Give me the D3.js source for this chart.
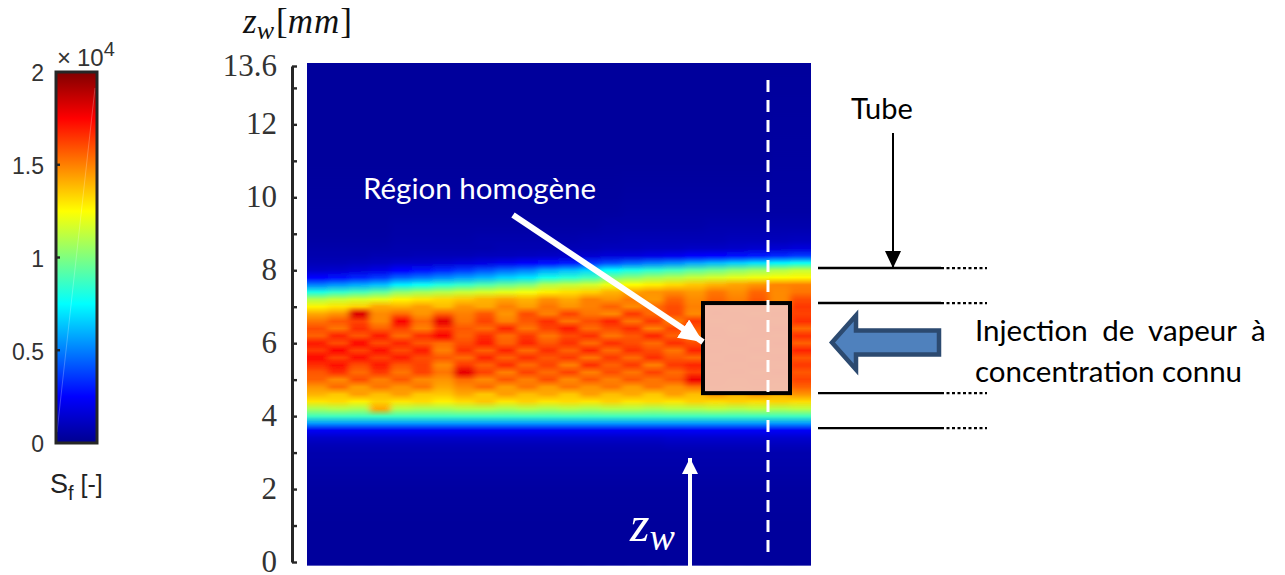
<!DOCTYPE html>
<html><head><meta charset="utf-8">
<script src="https://cdn.jsdelivr.net/npm/d3@7"></script>
<style>html,body{margin:0;padding:0;background:#fff}svg{display:block}</style>
</head><body><svg id="c" width="1285" height="575"></svg>
<script>
// Colour scale (×10^4)
const jetStops = [0, 0.25, 0.75, 1.25, 1.75, 2];
const jetColors = ["#00008f", "#0000ff", "#00ffff", "#ffff00", "#ff0000", "#800000"];
const colorbarTicks = [0, 0.5, 1, 1.5, 2];
const colorbarLabels = ["0", "0.5", "1", "1.5", "2"];
const zMinorTicks = [0,1,2,3,4,5,6,7,8,9,10,11,12,13,13.6];
const zLabelTicks = [0,2,4,6,8,10,12,13.6];
// Heat-map readings: z level of each row, one value per column (24 columns across the image)
const zRows = [13.7,11,9.6,9.2,8.8,8.6,8.4,8.2,8.0,7.8,7.6,7.4,7.2,7.0,6.8,6.6,6.4,6.2,6.0,5.8,5.6,5.4,5.2,5.0,4.8,4.6,4.4,4.2,4.0,3.8,3.6,3.4,3.2,3.0,2,1,-0.1];
const sValues = [
[.03,.03,.03,.03,.03,.03,.03,.03,.03,.03,.03,.03,.03,.03,.03,.03,.03,.03,.03,.03,.03,.03,.03,.03],
[.03,.03,.03,.03,.03,.03,.03,.03,.03,.03,.03,.03,.03,.03,.03,.03,.03,.03,.03,.03,.03,.03,.04,.04],
[.04,.04,.04,.04,.04,.04,.04,.04,.04,.04,.04,.04,.04,.04,.04,.05,.05,.05,.05,.05,.05,.05,.05,.05],
[.04,.04,.04,.04,.05,.05,.05,.05,.05,.05,.05,.05,.05,.05,.06,.06,.06,.06,.06,.07,.07,.07,.07,.07],
[.05,.05,.05,.05,.06,.06,.06,.06,.07,.07,.07,.07,.07,.08,.08,.09,.09,.09,.09,.09,.10,.10,.10,.11],
[.06,.06,.06,.06,.07,.07,.07,.07,.07,.08,.08,.08,.09,.09,.10,.10,.11,.11,.12,.12,.13,.14,.15,.17],
[.07,.07,.07,.08,.08,.09,.09,.09,.10,.10,.11,.12,.13,.14,.16,.17,.19,.21,.24,.26,.28,.30,.33,.36],
[.09,.09,.10,.11,.13,.13,.14,.16,.18,.21,.24,.27,.30,.35,.40,.45,.49,.52,.57,.61,.65,.69,.73,.77],
[.13,.14,.16,.19,.25,.28,.32,.36,.41,.46,.50,.58,.62,.67,.75,.80,.84,.88,.93,.97,1.02,1.06,1.10,1.14],
[.25,.28,.32,.36,.44,.48,.52,.56,.60,.66,.70,.79,.83,.88,.98,1.02,1.07,1.10,1.14,1.17,1.20,1.22,1.24,1.26],
[.50,.54,.58,.62,.72,.77,.82,.86,.91,.96,1.00,1.10,1.13,1.16,1.22,1.25,1.28,1.32,1.36,1.40,1.43,1.46,1.49,1.50],
[.80,.85,.89,.94,1.03,1.07,1.10,1.14,1.17,1.20,1.23,1.28,1.31,1.34,1.40,1.43,1.46,1.48,1.45,1.52,1.47,1.55,1.48,1.52],
[1.10,1.14,1.17,1.20,1.27,1.30,1.33,1.36,1.40,1.43,1.40,1.47,1.42,1.50,1.46,1.52,1.45,1.56,1.48,1.55,1.50,1.58,1.48,1.60],
[1.27,1.30,1.34,1.42,1.40,1.44,1.38,1.46,1.42,1.50,1.44,1.52,1.46,1.50,1.56,1.48,1.54,1.60,1.50,1.60,1.52,1.58,1.50,1.64],
[1.42,1.46,1.82,1.48,1.54,1.46,1.56,1.50,1.58,1.46,1.60,1.50,1.62,1.52,1.48,1.64,1.54,1.60,1.48,1.62,1.58,1.50,1.60,1.62],
[1.52,1.58,1.62,1.48,1.76,1.54,1.80,1.52,1.62,1.50,1.58,1.66,1.52,1.60,1.68,1.52,1.64,1.50,1.64,1.54,1.60,1.64,1.52,1.66],
[1.60,1.52,1.66,1.56,1.62,1.50,1.64,1.58,1.54,1.68,1.52,1.62,1.70,1.54,1.60,1.66,1.50,1.62,1.58,1.64,1.52,1.62,1.66,1.54],
[1.56,1.68,1.58,1.70,1.54,1.66,1.76,1.56,1.66,1.54,1.64,1.52,1.60,1.66,1.52,1.58,1.68,1.56,1.52,1.66,1.60,1.64,1.54,1.66],
[1.70,1.60,1.74,1.60,1.68,1.58,1.54,1.60,1.70,1.56,1.68,1.58,1.66,1.54,1.66,1.60,1.54,1.66,1.60,1.56,1.66,1.56,1.68,1.56],
[1.64,1.74,1.62,1.72,1.60,1.70,1.50,1.66,1.56,1.68,1.54,1.66,1.56,1.68,1.54,1.66,1.60,1.52,1.68,1.62,1.56,1.66,1.58,1.68],
[1.74,1.62,1.72,1.62,1.70,1.60,1.58,1.54,1.68,1.56,1.66,1.58,1.64,1.52,1.64,1.54,1.66,1.58,1.54,1.60,1.66,1.54,1.66,1.58],
[1.66,1.72,1.60,1.70,1.58,1.62,1.48,1.64,1.56,1.66,1.54,1.62,1.50,1.66,1.56,1.64,1.50,1.64,1.68,1.62,1.58,1.66,1.56,1.64],
[1.58,1.66,1.54,1.64,1.52,1.62,1.52,1.80,1.62,1.50,1.62,1.54,1.62,1.50,1.60,1.52,1.62,1.54,1.62,1.56,1.64,1.54,1.66,1.58],
[1.56,1.48,1.60,1.50,1.58,1.48,1.46,1.54,1.48,1.58,1.50,1.60,1.48,1.58,1.50,1.58,1.52,1.58,1.78,1.60,1.54,1.62,1.54,1.62],
[1.46,1.54,1.44,1.52,1.46,1.52,1.42,1.48,1.54,1.44,1.52,1.44,1.52,1.46,1.52,1.44,1.52,1.46,1.52,1.56,1.52,1.56,1.50,1.56],
[1.40,1.36,1.44,1.38,1.44,1.36,1.36,1.42,1.36,1.44,1.38,1.42,1.36,1.44,1.38,1.42,1.36,1.44,1.38,1.46,1.40,1.46,1.40,1.46],
[1.30,1.32,1.28,1.34,1.30,1.32,1.28,1.32,1.36,1.30,1.34,1.30,1.32,1.30,1.34,1.30,1.32,1.30,1.34,1.32,1.34,1.32,1.34,1.32],
[1.08,1.10,1.08,1.42,1.10,1.08,1.08,1.10,1.10,1.08,1.10,1.08,1.10,1.08,1.10,1.10,1.08,1.10,1.10,1.12,1.10,1.12,1.10,1.12],
[.88,.88,.88,.88,.88,.88,.88,.88,.88,.88,.88,.88,.88,.88,.88,.88,.88,.88,.88,.88,.88,.88,.88,.88],
[.55,.55,.55,.55,.55,.55,.55,.55,.55,.55,.55,.55,.55,.55,.55,.55,.55,.55,.55,.55,.55,.55,.55,.55],
[.22,.22,.22,.22,.22,.22,.22,.22,.22,.22,.22,.22,.22,.22,.22,.22,.22,.22,.23,.23,.23,.23,.23,.23],
[.13,.13,.13,.13,.13,.13,.13,.13,.13,.13,.13,.13,.13,.13,.13,.13,.13,.14,.14,.14,.14,.14,.14,.14],
[.09,.09,.09,.09,.09,.09,.09,.09,.09,.09,.09,.09,.09,.09,.09,.09,.09,.10,.10,.10,.10,.10,.10,.10],
[.07,.07,.07,.07,.07,.07,.07,.07,.07,.07,.07,.07,.07,.07,.07,.07,.07,.07,.07,.07,.07,.07,.07,.07],
[.04,.04,.04,.04,.04,.04,.04,.04,.04,.04,.04,.04,.04,.04,.04,.04,.04,.04,.04,.04,.04,.04,.04,.04],
[.03,.03,.03,.03,.03,.03,.03,.03,.03,.03,.03,.03,.03,.03,.03,.03,.03,.03,.03,.03,.03,.03,.03,.03],
[.03,.03,.03,.03,.03,.03,.03,.03,.03,.03,.03,.03,.03,.03,.03,.03,.03,.03,.03,.03,.03,.03,.03,.03]
];
const columns = d3.range(sValues[0].length);
// Tube levels and homogeneous region, in z [mm]
const tubeLevels = [8.06, 7.10, 4.63, 3.67];
const regionZ = [4.63, 7.10];
const titles = {region:"Région homogène", tube:"Tube", inj1:"Injection de vapeur à", inj2:"concentration connu"};

const svg = d3.select("#c");
const defs = svg.append("defs");
const jet = d3.scaleLinear().domain(jetStops).range(jetColors).clamp(true);
const y = d3.scaleLinear().domain([0,13.6]).range([562,66]);
const x = d3.scaleBand().domain(columns).range([307,811]);
const imgTop = y(13.7), imgBottom = y(-0.1);
const ink = "#262626";
const sansLabel = "Lato,sans-serif";

function marker(id,color,w,h){
  defs.append("marker").attr("id",id).attr("markerUnits","userSpaceOnUse").attr("markerWidth",w).attr("markerHeight",h)
    .attr("refX",w).attr("refY",h/2).attr("orient","auto")
    .append("path").attr("d",`M0,0L${w},${h/2}L0,${h}Z`).attr("fill",color);
}
marker("mw","#fff",24,22); marker("mz","#fff",16,16); marker("mb","#000",17,16);

// heat map: one vertical gradient per column, softened horizontally
defs.append("clipPath").attr("id","imgClip").append("rect")
  .attr("x",307).attr("y",63).attr("width",504).attr("height",503);
const blur = defs.append("filter").attr("id","soft").attr("filterUnits","userSpaceOnUse")
  .attr("x",260).attr("y",40).attr("width",600).attr("height",560);
blur.append("feGaussianBlur").attr("stdDeviation","3 0");
columns.forEach(c=>{
  const g = defs.append("linearGradient").attr("id","col"+c).attr("gradientUnits","userSpaceOnUse")
    .attr("x1",0).attr("x2",0).attr("y1",imgTop).attr("y2",imgBottom);
  zRows.forEach((z,r)=>g.append("stop").attr("offset",(y(z)-imgTop)/(imgBottom-imgTop)).attr("stop-color",jet(sValues[r][c])));
});
const img = svg.append("g").attr("clip-path","url(#imgClip)").append("g").attr("filter","url(#soft)");
img.selectAll("rect").data(columns).join("rect")
  .attr("x",c=>c===0?x(c)-30:x(c)-0.3)
  .attr("width",c=>(c===0||c===columns.length-1)?x.bandwidth()+30:x.bandwidth()+0.6)
  .attr("y",imgTop).attr("height",imgBottom-imgTop)
  .attr("fill",c=>`url(#col${c})`);

// z axis
const axisG = svg.append("g").attr("transform","translate(292,0)");
axisG.call(d3.axisRight(y).tickValues(zMinorTicks).tickSize(5).tickSizeOuter(0).tickFormat(""));
axisG.selectAll("path").attr("stroke",ink).attr("stroke-width",3);
axisG.selectAll("line").attr("stroke",ink).attr("stroke-width",2.4);
const axisL = svg.append("g").attr("transform","translate(292,0)");
axisL.call(d3.axisLeft(y).tickValues(zLabelTicks).tickSize(0).tickPadding(15).tickFormat(d=>String(d)));
axisL.select("path").remove();
axisL.selectAll("text").attr("font-family","'Liberation Serif',serif").attr("font-size",31).attr("fill","#333").attr("dy","0.3em");

// axis title
const at = svg.append("text").attr("x",243).attr("y",33).attr("font-family","'Liberation Serif',serif").attr("font-size",35).attr("fill","#111");
at.append("tspan").attr("font-style","italic").text("z");
at.append("tspan").attr("font-style","italic").attr("font-size",26).attr("dy",6).text("w");
at.append("tspan").attr("dy",-6).attr("dx",2).text("[");
at.append("tspan").attr("font-style","italic").attr("letter-spacing",1).text("mm");
at.append("tspan").text("]");

// colour bar
const cb = d3.scaleLinear().domain([0,2]).range([443,72]);
const cg = defs.append("linearGradient").attr("id","cbar").attr("gradientUnits","userSpaceOnUse")
  .attr("x1",0).attr("x2",0).attr("y1",cb(0)).attr("y2",cb(2));
jetStops.forEach(v=>cg.append("stop").attr("offset",v/2).attr("stop-color",jet(v)));
svg.append("rect").attr("x",56).attr("y",cb(2)).attr("width",41).attr("height",cb(0)-cb(2)).attr("fill","url(#cbar)");
svg.append("line").attr("x1",95).attr("y1",88).attr("x2",57).attr("y2",432).attr("stroke","#fff").attr("stroke-opacity",.3).attr("stroke-width",.8);
svg.append("rect").attr("x",56).attr("y",cb(2)).attr("width",41).attr("height",cb(0)-cb(2)).attr("fill","none").attr("stroke",ink).attr("stroke-width",3);
svg.selectAll(".cbt").data(colorbarTicks.slice(1,-1)).join("line").attr("class","cbt")
  .attr("x1",56).attr("x2",60).attr("y1",cb).attr("y2",cb).attr("stroke",ink).attr("stroke-width",2.4);
svg.selectAll(".cbl").data(colorbarTicks).join("text").attr("class","cbl")
  .attr("x",44).attr("y",d=>cb(d)+1).attr("dy","0.36em").attr("text-anchor","end")
  .attr("font-family","'Liberation Sans',sans-serif").attr("font-size",23).attr("fill","#333")
  .text((d,i)=>colorbarLabels[i]);
const ex = svg.append("text").attr("x",57).attr("y",66).attr("font-family","'Liberation Sans',sans-serif").attr("font-size",24).attr("fill","#333");
ex.append("tspan").text("×");
ex.append("tspan").attr("dx",6).text("10");
ex.append("tspan").attr("font-size",20).attr("dy",-10).text("4");
const sf = svg.append("text").attr("x",50).attr("y",493).attr("font-family","'Liberation Sans',sans-serif").attr("font-size",27).attr("fill","#222");
sf.append("tspan").text("S");
sf.append("tspan").attr("font-size",20).attr("dy",7).text("f");
sf.append("tspan").attr("dy",-7).attr("dx",7).attr("font-size",25).text("[-]");

// homogeneous region
svg.append("rect").attr("x",703).attr("y",y(regionZ[1])).attr("width",87).attr("height",y(regionZ[0])-y(regionZ[1]))
  .attr("fill","#f3bfb0").attr("fill-opacity",.96).attr("stroke","#000").attr("stroke-width",4);
// dashed line
svg.append("line").attr("x1",768).attr("x2",768).attr("y1",80).attr("y2",560).attr("stroke","#fff").attr("stroke-width",3).attr("stroke-dasharray","12 8");
// white annotations
svg.append("line").attr("x1",513).attr("y1",215).attr("x2",703).attr("y2",342).attr("stroke","#fff").attr("stroke-width",6).attr("marker-end","url(#mw)");
svg.append("line").attr("x1",690).attr("y1",566).attr("x2",690).attr("y2",458).attr("stroke","#fff").attr("stroke-width",4).attr("marker-end","url(#mz)");
svg.append("text").attr("x",363).attr("y",199).attr("font-family",sansLabel).attr("font-size",29.5).attr("fill","#fff").text(titles.region);
const zw = svg.append("text").attr("x",630).attr("y",541).attr("font-family","'Liberation Serif',serif").attr("font-style","italic").attr("font-size",50).attr("fill","#fff");
zw.append("tspan").text("z");
zw.append("tspan").attr("font-size",38).attr("dy",9).text("w");

// tube lines
svg.selectAll(".tube").data(tubeLevels).join("line").attr("class","tube")
  .attr("x1",818).attr("x2",941).attr("y1",y).attr("y2",y).attr("stroke","#000").attr("stroke-width",2.4);
svg.selectAll(".tubed").data(tubeLevels).join("line").attr("class","tubed")
  .attr("x1",941).attr("x2",987).attr("y1",y).attr("y2",y).attr("stroke","#000").attr("stroke-width",2.2).attr("stroke-dasharray","3 2.5");
svg.append("text").attr("x",851).attr("y",119).attr("font-family",sansLabel).attr("font-size",29).attr("fill","#000").text(titles.tube);
svg.append("line").attr("x1",893).attr("y1",133).attr("x2",893).attr("y2",y(tubeLevels[0])).attr("stroke","#000").attr("stroke-width",2).attr("marker-end","url(#mb)");

// injection arrow
const ay = 342.5;
svg.append("path").attr("d",d3.line()([[832,ay],[856,ay-27],[856,ay-12],[939,ay-12],[939,ay+12],[856,ay+12],[856,ay+27]])+"Z")
  .attr("fill","#4f81bd").attr("stroke","#2c4a70").attr("stroke-width",4.5);
svg.append("text").attr("x",975).attr("y",341).attr("font-family",sansLabel).attr("font-size",29.5).attr("word-spacing",7).attr("fill","#000").text(titles.inj1);
svg.append("text").attr("x",975).attr("y",382).attr("font-family",sansLabel).attr("font-size",29.5).attr("fill","#000").text(titles.inj2);
</script></body></html>
